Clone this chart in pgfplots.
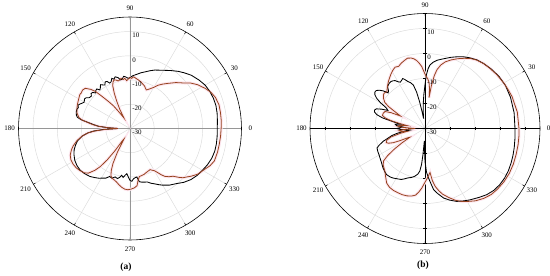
\documentclass[border=0pt]{standalone}
\usepackage{fontspec}
\setmainfont{Liberation Serif}
\usepackage{pgfplots}
\usepgfplotslibrary{polar}
\pgfplotsset{compat=1.18}
\usepackage{pgfplotstable}

\definecolor{brn}{RGB}{150,66,30}
\definecolor{halo}{RGB}{253,230,239}
\definecolor{gridc}{RGB}{218,218,218}
\definecolor{axg}{RGB}{150,150,150}

\pgfplotstableread{
a r
0 6
5 6.2
10 6.5
15 6.7
20 6.6
25 6.3
30 5.8
35 4.8
41 3.5
46 2
50 0.8
55 -0.8
59 -2
63 -3
67 -3.8
71 -4.8
75 -5.8
79 -6.6
83 -7.5
87 -8.2
90 -9
92 -9.3
95 -8.6
97 -8.3
99 -9.4
101 -9.6
103 -8.5
106 -7.8
108 -8.6
110 -8
112 -9.2
114 -9.5
116 -8.4
118 -8.2
120 -9.3
122 -8.8
124 -8.2
126 -9.2
128 -9.8
130 -8.7
132 -8.9
134 -9.6
136 -8.6
138 -8.4
140 -9.2
143 -8.9
145 -7.9
147 -7.6
150 -8.2
152 -7.7
154 -7.0
156 -6.5
158 -7.0
160 -6.7
163 -6.8
166 -7.2
168 -7.8
170 -9.8
172 -12.8
174 -15
176 -17
178 -21
180 -25
182 -19
184 -15
186 -12.5
189 -10
193 -7.8
197 -6.5
201 -5.3
205 -4.5
210 -3.7
215 -3.3
220 -3.2
225 -3.6
230 -4.2
234 -5
238 -5.8
241 -6.6
244 -7.2
247 -8.5
250 -8.2
253 -9.1
256 -8.7
258 -9.4
260 -10.4
262 -9.6
264 -10.6
266 -11.3
268 -10
270 -8.6
272 -8.2
274 -9.2
276 -9.6
278 -9.8
280 -7.7
282 -7.4
284 -7.2
286 -7.0
288 -6.8
291 -5.8
294 -5
297 -4
300 -3
305 -1.5
310 -0.3
315 1.4
320 2.8
325 3.8
330 4.5
335 5.3
340 5.9
345 6.2
350 6.2
355 6.1
360 6
}\blackA

\pgfplotstableread{
a r
0 7.6
5 7.8
10 7.9
15 8
20 7.5
24 6.6
28 5.2
33 3.2
37 1.2
40 -0.8
45 -3.2
50 -5.7
54 -7.4
57 -8.7
60 -10.4
62 -11.2
65 -12.2
67 -12.7
69 -12.2
71 -11.5
74 -10.9
77 -10.2
80 -9.7
83 -9.2
86 -8.6
88 -9.3
90 -9.0
92 -9.6
94 -10.2
96 -9.2
98 -9.6
100 -9.0
102 -9.5
104 -9.8
106 -9.2
108 -8.9
110 -9.5
112 -11
114 -14
116 -17.6
118 -21
120 -25
122 -23.5
124 -21.5
126 -18.5
128.5 -15.8
131 -12.5
133 -9.1
135 -7.2
138 -5.2
141 -4.8
144 -5.1
146 -5
148 -5.3
152 -5.8
156 -6.2
160 -6.7
164 -7.3
168 -8.5
170 -10
172 -12.5
174 -14.5
176 -17
178 -21
180 -25
182 -20
184 -15.5
186 -12.5
189 -10
193 -7.5
197 -5.5
200 -4.3
204 -3
208 -2.4
212 -2.3
216 -2.5
220 -3
224 -3.7
227 -4.8
230 -7.5
232 -10
234 -14
236 -19
238 -24
240 -25
242 -19
244 -14
246 -11
248 -9
250 -8.2
253 -7.8
256 -7.2
259 -6.3
262 -5.5
265 -4.9
268 -4.7
271 -5
274 -5.4
277 -6.2
279 -8.5
281 -9.8
284 -10
287 -10.2
290 -10.6
293 -10.9
296 -11.1
298 -10.5
300 -9.9
302 -8.6
304 -7
306 -5.6
309 -4.4
312 -3.5
315 -1.5
317 -0.2
320 1
322 2
326 3.7
331 5
335 6.4
339 7.3
345 7.4
350 7.4
355 7.5
360 7.6
}\brownA

\pgfplotstableread{
a r
0 6
10 6.2
20 6.4
28 6.5
35 6.2
42 5.6
48 5.0
53 4.4
58 3.4
62 2.5
66 1.4
70 0.3
73 -0.6
77 -1.6
80 -2.3
83 -3.3
85.5 -4.5
87 -6
88.5 -8.5
90 -12.5
92 -16.5
94 -20
96 -23
98 -26
100 -23
101.5 -19
103 -15
105 -12
107.5 -10.8
110 -10
112 -9
114 -8.1
116 -8.6
118 -9
120 -8.4
122 -7.4
124 -7
126 -6.8
128 -6.9
130 -7.2
132 -7.6
134 -9
136 -9.5
138 -7.5
140 -6.2
142 -5.3
144 -5.2
146 -5.8
148 -7.2
150 -9.5
152 -12.5
154 -13.5
156 -11
158 -9
160 -8.5
162 -8.8
164 -10
166 -12.5
168 -17
170 -20
172 -18
174 -18.5
176 -21
178 -20
180 -18.7
182 -20
184 -23
186 -24
188 -21
190 -18.5
192 -16.5
194.5 -14.8
197 -12.5
200 -10.5
202 -9.3
206 -9
210 -8.8
213 -8.5
218 -7.9
223 -7
227 -6.4
230 -6
234 -6.1
237 -6.4
241 -7
245 -7.5
248 -8.3
251 -9.1
254 -9.6
256 -10
258 -10.5
261 -11.5
263 -12.8
264.5 -15.5
265.5 -19.5
267 -25
268.5 -22
270 -16.8
272 -12.5
274 -10.2
276 -8
278 -5.3
281 -3.5
285 -1.2
289 0.3
293.5 1.8
298 2.8
302 3.7
308 5
313 6.2
318 7
323 7.4
328 7.5
333 7.4
338 7.1
343 6.8
348 6.5
354 6.2
360 6
}\blackB

\pgfplotstableread{
a r
0 7.6
10 7.5
20 7.1
25 6.7
30 6.4
37 5.9
43 5.4
48 5.0
53 4.3
57 3.4
61 2.1
65 0.8
69 -0.6
73 -2.1
76 -3.8
78.5 -6
80 -8.5
81.5 -12.5
82.5 -17.5
83.5 -14
85 -11.5
87 -10
89 -9
91 -7.3
93 -5.2
95 -3.8
97 -2.6
99 -1.8
101 -1.3
104 -1
107 -1.6
110 -2.2
113 -3
116 -2.7
119 -3.4
122 -4.3
125 -5.3
128 -6.2
132 -7.5
136 -8.8
139 -8.4
141 -8.6
144 -9.5
147 -10.8
149 -13
151 -16.5
153 -19
155 -15
157 -12.6
160 -12.2
163 -12.2
165 -13.5
167 -16
169 -20
171 -23
173 -20
175 -19
177 -21
180 -26
183 -21
185 -19.5
187 -20.5
189 -23
191 -20
194 -16
197 -14
200 -13.5
202 -14.3
204 -16
206 -19
208 -22
210 -23
212 -19
214 -15
216 -11.5
218 -9
221 -7.8
224 -7.2
227 -6.5
231 -5
235 -3.3
239 -2.5
243 -2.2
247 -2.1
251 -2
255 -2.1
259 -2.5
262 -3.1
264.5 -4.5
267 -6.2
270 -8.5
272.5 -10
275 -11.5
276.5 -12.3
278 -9
280 -6.5
282.5 -4.5
285 -2.8
289 -0.8
293 1.2
297 2.8
301 4
305 5.3
310 6.5
315 7.4
320 7.8
326 8.1
332 8.2
338 8.1
344 7.9
350 7.8
355 7.7
360 7.6
}\brownB

\tikzset{
  rlab/.style={anchor=north west, inner sep=0pt, xshift=2.2bp, yshift=-1.4bp, font=\fontsize{7}{8}\selectfont},
  alab/.style={anchor=center, inner sep=0pt, font=\fontsize{7}{8}\selectfont},
}
\pgfplotsset{
  mypolar/.style={
    scale only axis,
    xmin=0, xmax=360, ymin=0, ymax=46,
    xtick={0,30,...,330},
    xticklabels={},
    ytick={10,20,30,40},
    yticklabels={},
    xmajorgrids, ymajorgrids,
    grid style={gridc, line width=0.45pt},
    separate axis lines,
    x axis line style={black, line width=0.6pt},
    y axis line style={draw=none},
    ytick style={draw=none},
    xtick style={black, line width=0.5pt},
    tick align=outside,
    major tick length=2.5bp,
    clip=false,
  },
}

\begin{document}
\begin{tikzpicture}
\path[use as bounding box] (0,0) rectangle (550bp,276bp);

% ---------- (a) ----------
\begin{polaraxis}[mypolar, width=223bp, height=223bp, at={(130bp,147.5bp)}, anchor=center]
\draw[axg, line width=0.7pt] (axis cs:0,46) -- (axis cs:180,46);
\draw[axg, line width=0.9pt] (axis cs:90,46) -- (axis cs:270,46);
\addplot[halo, line width=3bp, no markers] table[x=a, y expr=\thisrow{r}+30] {\brownA};
\addplot[black, line width=0.85pt, no markers] table[x=a, y expr=\thisrow{r}+30] {\blackA};
\addplot[brn, line width=0.8pt, no markers] table[x=a, y expr=\thisrow{r}+30] {\brownA};
\node[rlab] at (axis cs:90,40) {10};
\node[rlab] at (axis cs:90,30) {0};
\node[rlab] at (axis cs:90,20) {-10};
\node[rlab] at (axis cs:90,10) {-20};
\node[rlab] at (axis cs:90,0) {-30};
\pgfplotsinvokeforeach{0,30,60,90,120,150,180,210,240,270,300,330}{
  \node[alab] at (axis cs:#1,49.7) {#1};
}
\end{polaraxis}

% ---------- (b) ----------
\begin{polaraxis}[mypolar, width=230bp, height=230bp, at={(425bp,147.5bp)}, anchor=center]
\draw[black, line width=0.6pt] (axis cs:0,46) -- (axis cs:180,46);
\draw[black, line width=0.6pt] (axis cs:90,46) -- (axis cs:270,46);
\pgfplotsinvokeforeach{10,20,30,40}{
  \draw[black, line width=0.5pt] (axis cs:0,#1) ++(0,-1.6bp) -- ++(0,3.2bp);
  \draw[black, line width=0.5pt] (axis cs:180,#1) ++(0,-1.6bp) -- ++(0,3.2bp);
  \draw[black, line width=0.5pt] (axis cs:90,#1) ++(-1.6bp,0) -- ++(3.2bp,0);
  \draw[black, line width=0.5pt] (axis cs:270,#1) ++(-1.6bp,0) -- ++(3.2bp,0);
}
\addplot[halo, line width=3bp, no markers] table[x=a, y expr=\thisrow{r}+30] {\brownB};
\addplot[black, line width=0.85pt, no markers] table[x=a, y expr=\thisrow{r}+30] {\blackB};
\addplot[brn, line width=0.8pt, no markers] table[x=a, y expr=\thisrow{r}+30] {\brownB};
\node[rlab] at (axis cs:90,40) {10};
\node[rlab] at (axis cs:90,30) {0};
\node[rlab] at (axis cs:90,20) {-10};
\node[rlab] at (axis cs:90,10) {-20};
\node[rlab] at (axis cs:90,0) {-30};
\pgfplotsinvokeforeach{0,30,60,90,120,150,180,210,240,270,300,330}{
  \node[alab] at (axis cs:#1,49.4) {#1};
}
\end{polaraxis}

\node[font=\bfseries\fontsize{9.5}{10}\selectfont] at (126bp,8.5bp) {(a)};
\node[font=\bfseries\fontsize{9.5}{10}\selectfont] at (423bp,10.5bp) {(b)};
\end{tikzpicture}
\end{document}
